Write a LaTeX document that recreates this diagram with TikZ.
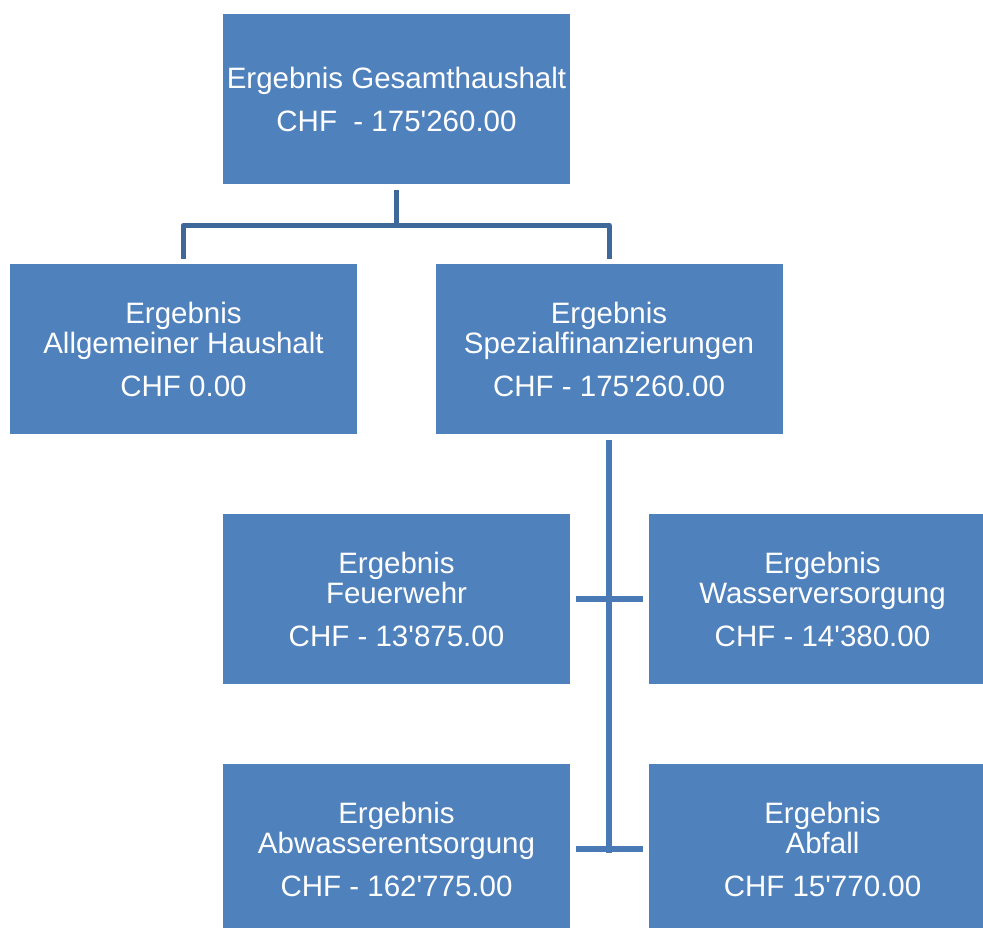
\documentclass[tikz,border=0pt]{standalone}
\usepackage{fontspec}
\setmainfont{Liberation Sans}
\usetikzlibrary{calc}
\definecolor{boxblue}{HTML}{4F81BD}
\definecolor{topline}{HTML}{3E6899}
\definecolor{spine}{HTML}{4A7AB6}
\newcommand{\apo}{\textquotesingle}
\tikzset{
  box/.style={fill=boxblue, draw=none, minimum width=347pt, minimum height=170pt,
    inner sep=0pt, text=white, align=center, font=\fontsize{29.5}{30}\selectfont},
  toplink/.style={draw=topline, line width=5pt, line join=round},
  lowlink/.style={draw=spine, line width=5.5pt}
}
\begin{document}
\begin{tikzpicture}[x=1pt,y=-1pt]
\clip (0,0) rectangle (983,928);
\fill[white] (0,0) rectangle (983,928);
\node[box] (top) at (396.5,99) {Ergebnis Gesamthaushalt\\[13pt]CHF\ \ - 175\apo260.00};
\node[box] (allg) at (183.5,349) {Ergebnis\\Allgemeiner Haushalt\\[13pt]CHF 0.00};
\node[box] (spez) at (609,349) {Ergebnis\\Spezialfinanzierungen\\[13pt]CHF - 175\apo260.00};
\node[box] (feuer) at (396.5,599) {Ergebnis\\Feuerwehr\\[13pt]CHF - 13\apo875.00};
\node[box] (wasser) at (822.5,599) {Ergebnis\\Wasserversorgung\\[13pt]CHF - 14\apo380.00};
\node[box] (abw) at (396.5,849) {Ergebnis\\Abwasserentsorgung\\[13pt]CHF - 162\apo775.00};
\node[box] (abf) at (822.5,849) {Ergebnis\\Abfall\\[13pt]CHF 15\apo770.00};
% top connector
\coordinate (ts) at ($(top.south)+(0,6)$);
\coordinate (tj) at ($(top.south)+(0,41)$);
\coordinate (as) at ($(allg.north)+(0,-5)$);
\coordinate (ss) at ($(spez.north)+(0,-5)$);
\path[toplink] (ts) -- (tj);
\path[toplink] (as) -- (as |- tj) -- (ss |- tj) -- (ss);
% lower spine
\coordinate (sb) at ($(spez.south)+(0,6)$);
\coordinate (se) at ($(spez.south)+(0,419)$);
\path[lowlink] (sb) -- (se);
\coordinate (fe) at ($(feuer.east)+(5.5,0)$);
\coordinate (we) at ($(wasser.west)+(-5.5,0)$);
\coordinate (ae) at ($(abw.east)+(5.5,0)$);
\coordinate (be) at ($(abf.west)+(-5.5,0)$);
\path[lowlink] (fe) -- (we);
\path[lowlink] (ae) -- (be);
\end{tikzpicture}
\end{document}
